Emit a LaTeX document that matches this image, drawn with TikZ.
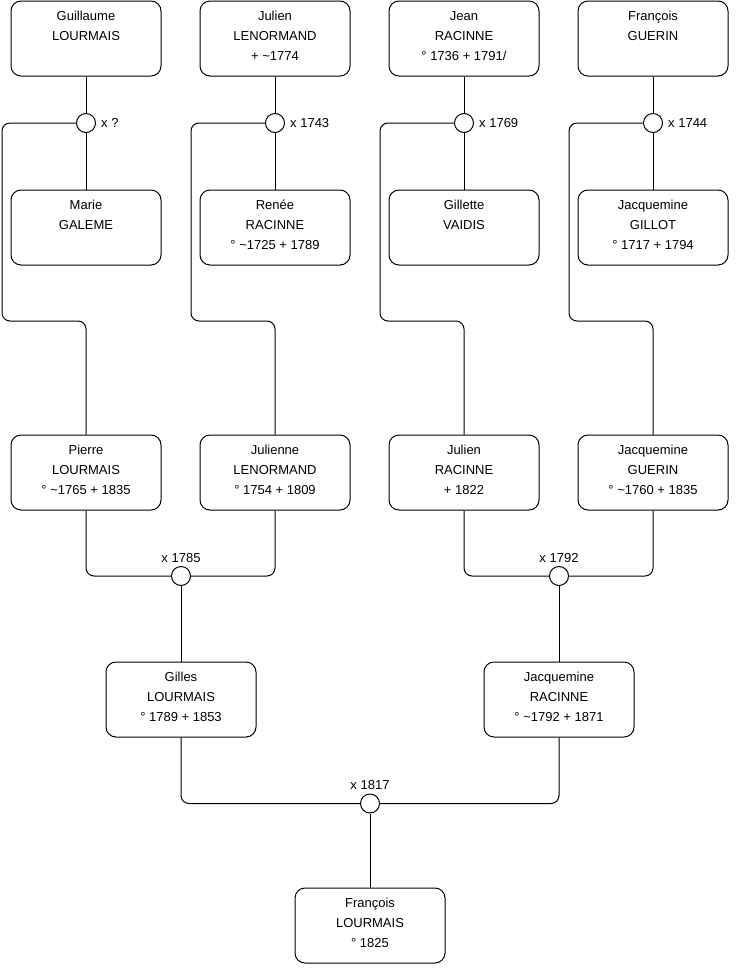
\documentclass[tikz,border=0pt]{standalone}
\usepackage{fontspec}
\setmainfont{Liberation Sans}
\begin{document}
\begin{tikzpicture}[x=1pt,y=-1pt,
  person/.style={draw=black, line width=1pt, rounded corners=10pt, minimum width=150pt, minimum height=75pt, inner sep=0pt, fill=white},
  ptext/.style={anchor=north, align=center, inner sep=0pt, yshift=-10pt, font={\fontsize{13}{20}\selectfont}},
  wed/.style={draw=black, line width=1pt, circle, minimum size=19pt, inner sep=0pt, fill=white},
  wlab/.style={inner sep=0pt, font={\fontsize{13}{14}\selectfont}},
  link/.style={draw=black, line width=1pt, rounded corners=8pt}
]
\useasboundingbox (0,0) rectangle (740,975);
\newcommand{\fx}{\rule{0pt}{10pt}}
% row 1
\node[person] (p1) at (86,38.5) {};
\node[ptext] (t1) at (p1.north) {\fx Guillaume\\LOURMAIS};
\node[person] (p2) at (275,38.5) {};
\node[ptext] (t2) at (p2.north) {\fx Julien\\LENORMAND\\+ \textasciitilde1774};
\node[person] (p3) at (464,38.5) {};
\node[ptext] (t3) at (p3.north) {\fx Jean\\RACINNE\\° 1736 + 1791/};
\node[person] (p4) at (653,38.5) {};
\node[ptext] (t4) at (p4.north) {\fx François\\GUERIN};
% row 2
\node[person] (p5) at (86,227.5) {};
\node[ptext] (t5) at (p5.north) {\fx Marie\\GALEME};
\node[person] (p6) at (275,227.5) {};
\node[ptext] (t6) at (p6.north) {\fx Renée\\RACINNE\\° \textasciitilde1725 + 1789};
\node[person] (p7) at (464,227.5) {};
\node[ptext] (t7) at (p7.north) {\fx Gillette\\VAIDIS};
\node[person] (p8) at (653,227.5) {};
\node[ptext] (t8) at (p8.north) {\fx Jacquemine\\GILLOT\\° 1717 + 1794};
% row 3
\node[person] (p9) at (86,472.5) {};
\node[ptext] (t9) at (p9.north) {\fx Pierre\\LOURMAIS\\° \textasciitilde1765 + 1835};
\node[person] (p10) at (275,472.5) {};
\node[ptext] (t10) at (p10.north) {\fx Julienne\\LENORMAND\\° 1754 + 1809};
\node[person] (p11) at (464,472.5) {};
\node[ptext] (t11) at (p11.north) {\fx Julien\\RACINNE\\+ 1822};
\node[person] (p12) at (653,472.5) {};
\node[ptext] (t12) at (p12.north) {\fx Jacquemine\\GUERIN\\° \textasciitilde1760 + 1835};
% row 4
\node[person] (p13) at (181,699.5) {};
\node[ptext] (t13) at (p13.north) {\fx Gilles\\LOURMAIS\\° 1789 + 1853};
\node[person] (p14) at (559,699.5) {};
\node[ptext] (t14) at (p14.north) {\fx Jacquemine\\RACINNE\\° \textasciitilde1792 + 1871};
% row 5
\node[person] (p15) at (370,925.5) {};
\node[ptext] (t15) at (p15.north) {\fx François\\LOURMAIS\\° 1825};
% weddings
\node[wed] (m1) at (86,123) {};
\node[wed] (m2) at (275,123) {};
\node[wed] (m3) at (464,123) {};
\node[wed] (m4) at (653,123) {};
\node[wed] (m5) at (181,576) {};
\node[wed] (m6) at (559,576) {};
\node[wed] (m7) at (370,803.5) {};
\node[wlab, anchor=west] (l1) at ([xshift=5pt]m1.east) {x ?};
\node[wlab, anchor=west] (l2) at ([xshift=5pt]m2.east) {x 1743};
\node[wlab, anchor=west] (l3) at ([xshift=5pt]m3.east) {x 1769};
\node[wlab, anchor=west] (l4) at ([xshift=5pt]m4.east) {x 1744};
\node[wlab, anchor=base] (l5) at ([yshift=4pt]m5.north) {x 1785};
\node[wlab, anchor=base] (l6) at ([yshift=4pt]m6.north) {x 1792};
\node[wlab, anchor=base] (l7) at ([yshift=4pt]m7.north) {x 1817};
% connectors
\foreach \a/\m/\b/\c/\lx/\cx in {p1/m1/p5/p9/2/86, p2/m2/p6/p10/191/275, p3/m3/p7/p11/380/464, p4/m4/p8/p12/569/653}{
  \draw[link] (\a.south) -- (\m.north);
  \draw[link] (\m.south) -- (\b.north);
  \draw[link] (\m.west) -- (\lx,123) -- (\lx,321) -- (\cx,321) -- (\c.north);
}
\draw[link] (p9.south) |- (m5.west);
\draw[link] (p10.south) |- (m5.east);
\draw[link] (p11.south) |- (m6.west);
\draw[link] (p12.south) |- (m6.east);
\draw[link] (m5.south) -- (p13.north);
\draw[link] (m6.south) -- (p14.north);
\draw[link] (p13.south) |- (m7.west);
\draw[link] (p14.south) |- (m7.east);
\draw[link] (m7.south) -- (p15.north);
\end{tikzpicture}
\end{document}
